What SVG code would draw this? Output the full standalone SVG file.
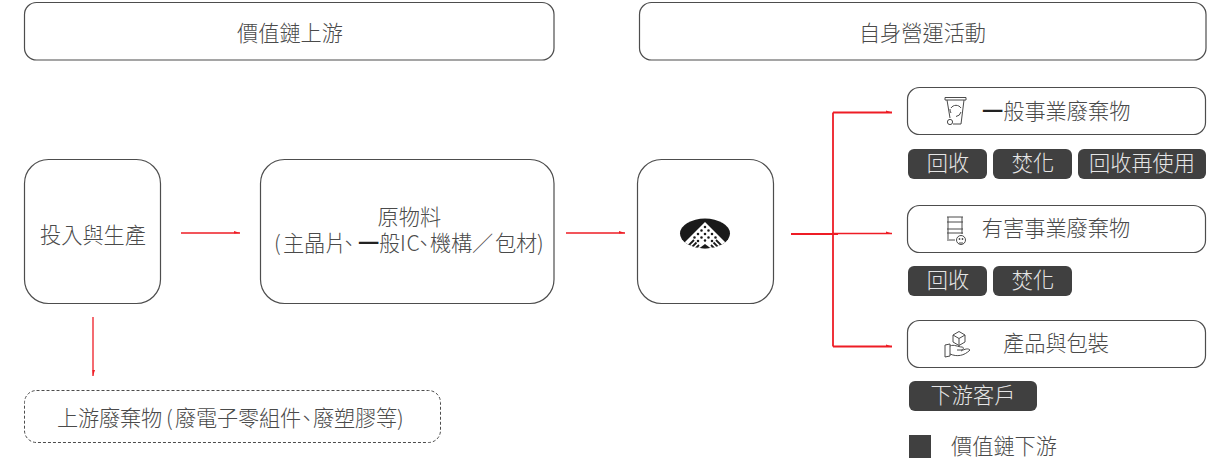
<svg xmlns="http://www.w3.org/2000/svg" width="1214" height="462" viewBox="0 0 1214 462">
<style>
text{font-family:"Noto Sans CJK TC","Noto Sans CJK SC",sans-serif;font-size:21.200px;font-weight:300;fill:#4a4a4a;text-anchor:middle}
text.s{text-anchor:start}
.k{fill:#222;font-weight:500}
.box{fill:#fff;stroke:#4d4d4d;stroke-width:1.2}
.dash{fill:#fff;stroke:#4d4d4d;stroke-width:1;stroke-dasharray:3 2}
.tag{fill:#404040}
.tt{fill:#e6e6e6}
.c{fill:none;stroke:#ee1c25;stroke-width:1.3}
.c2{fill:none;stroke:#ee1c25;stroke-width:1.8}
.i{fill:none;stroke:#4a4a4a;stroke-width:1}
</style>
<defs>
<marker id="a" markerUnits="userSpaceOnUse" markerWidth="7" markerHeight="6" refX="6" refY="3" orient="auto"><path d="M0 1 L6 3 L0 3.6Z" fill="#ee1c25"/></marker>
<clipPath id="lens"><ellipse cx="705" cy="233.500" rx="25" ry="15"/></clipPath>
</defs>
<g id="connectors">
<path class="c" d="M181 233H240" marker-end="url(#a)"/>
<path class="c" d="M566 233H625" marker-end="url(#a)"/>
<path class="c" d="M93 317V376" marker-end="url(#a)"/>
<path class="c2" d="M791 234H838"/>
<path class="c2" d="M833 112.500V346.500"/>
<path class="c2" d="M833 112.500H892" marker-end="url(#a)"/>
<path class="c" d="M833 233.500H892" marker-end="url(#a)"/>
<path class="c2" d="M833 346.500H892" marker-end="url(#a)"/>
</g>
<g id="n-upstream"><rect class="box" x="24.500" y="2.500" width="529.500" height="57.500" rx="12"/><text x="290" y="40.500">價值鏈上游</text></g>
<g id="n-own"><rect class="box" x="639.500" y="2.500" width="566.500" height="57.500" rx="12"/><text x="922.500" y="40.500">自身營運活動</text></g>
<g id="n-input"><rect class="box" x="24.500" y="159.500" width="136" height="144" rx="24"/><text x="93" y="243">投入與生產</text></g>
<g id="n-material"><rect class="box" x="260.500" y="159.500" width="293.500" height="144" rx="24"/>
<text class="s" y="225"><tspan x="377.500">原物料</tspan><tspan x="274 283 304 325 338" y="251">(主晶片、</tspan><tspan class="k" x="358" y="251">一</tspan><tspan x="379 400 406.500 413 430 451 472 495 516 537" y="251">般IC、機構／包材)</tspan></text></g>
<g id="n-company"><rect class="box" x="637.500" y="159.500" width="136" height="144" rx="24"/>
<ellipse cx="705" cy="233.500" rx="25" ry="15" fill="#1a1a1a"/>
<g clip-path="url(#lens)"><path d="M705 222L680 247V250H730V247Z" fill="#fff"/>
<path d="M694 240L680 254M696.500 242.500L682 257M699 245L686 258M716 240L730 254M713.500 242.500L728 257M711 245L724 258" fill="none" stroke="#1a1a1a" stroke-width="1.800"/>
<path d="M705 244L697 250H713Z" fill="#1a1a1a"/>
<path d="M705 227h0M701.500 230.500h0M708.500 230.500h0M698 234h0M705 234h0M712 234h0M694.500 237.500h0M701.500 237.500h0M708.500 237.500h0M715.500 237.500h0M698 241h0M712 241h0M705 240.500h0" fill="none" stroke="#1a1a1a" stroke-width="2.600" stroke-linecap="round"/></g></g>
<g id="n-general"><rect class="box" x="907.500" y="87.500" width="298" height="47" rx="12"/>
<g class="i"><path d="M945 97.500H966V100H945ZM947 100L950 118M964 100L961 124H953"/><circle cx="950" cy="122" r="2.600"/><path d="M951 108A6 6 0 0 1 961 108M961 112A6 6 0 0 1 956 116.500M951 113A6 6 0 0 1 950 109"/></g>
<text class="s" y="119" x="982"><tspan class="k">一</tspan><tspan>般事業廢棄物</tspan></text></g>
<g id="t-recycle1"><rect class="tag" x="908" y="149" width="79" height="30" rx="6"/><text class="tt" x="948" y="171">回收</text></g>
<g id="t-burn1"><rect class="tag" x="993" y="149" width="79" height="30" rx="6"/><text class="tt" x="1033" y="171">焚化</text></g>
<g id="t-reuse"><rect class="tag" x="1078" y="149" width="128" height="30" rx="6"/><text class="tt" x="1142" y="171">回收再使用</text></g>
<g id="n-hazard"><rect class="box" x="907.500" y="205.500" width="298" height="47" rx="12"/>
<g class="i"><path d="M947 217H963M948 217V239M962 217V234M947 222H963M947 229H963M947 233H963M947 240H955"/><circle cx="961" cy="240" r="4.500"/><path d="M959.500 239h0M962.500 239h0" stroke-width="1.800" stroke-linecap="round"/><path d="M959 243H963"/></g>
<text x="1056" y="236">有害事業廢棄物</text></g>
<g id="t-recycle2"><rect class="tag" x="908" y="266" width="79" height="30" rx="6"/><text class="tt" x="948" y="288">回收</text></g>
<g id="t-burn2"><rect class="tag" x="993" y="266" width="79" height="30" rx="6"/><text class="tt" x="1033" y="288">焚化</text></g>
<g id="n-product"><rect class="box" x="907.500" y="320.500" width="298" height="47" rx="12"/>
<g class="i"><path d="M953 335L959 331.500L965 335V342L959 345.500L953 342ZM953 335L959 338.500L965 335M959 338.500V345.500M945 345L950 344V356L945 357ZM950 346C954 344 958 347 962 347C964 347 964 350 961 350H957M950 354C957 357 964 356 970 350C968 348 965 349 961 351"/></g>
<text x="1056" y="351">產品與包裝</text></g>
<g id="t-down"><rect class="tag" x="909" y="381" width="128" height="30" rx="6"/><text class="tt" x="973" y="403">下游客戶</text></g>
<g id="n-waste"><rect class="dash" x="24.500" y="390.500" width="416" height="52" rx="12"/>
<text class="s" y="426" x="57 78 99 120 141 166 175 196 217 238 259 280 296 313 334 355 376 397">上游廢棄物(廢電子零組件、廢塑膠等)</text></g>
<g id="legend"><rect class="tag" x="909" y="435" width="22" height="23"/><text x="1004" y="454">價值鏈下游</text></g>
</svg>
